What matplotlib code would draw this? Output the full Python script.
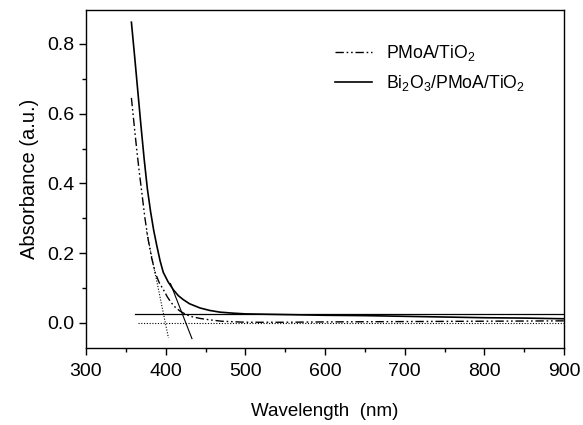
import numpy as np
import matplotlib
matplotlib.use('Agg')
import matplotlib.pyplot as plt
from matplotlib.ticker import MultipleLocator, FormatStrFormatter

plt.rcParams['font.family'] = ['Liberation Sans', 'DejaVu Sans']
plt.rcParams['mathtext.fontset'] = 'custom'
plt.rcParams['mathtext.rm'] = 'Liberation Sans'

# PMoA/TiO2 absorbance
wl_pmoa = [357, 361, 364, 367, 370, 374, 378, 382, 387, 392, 397, 402, 407,
           412, 418, 425, 431, 437, 443, 455, 470, 500, 550, 600, 700, 800, 900]
abs_pmoa = [0.645, 0.555, 0.49, 0.43, 0.375, 0.30, 0.24, 0.19, 0.143, 0.115,
            0.096, 0.075, 0.058, 0.045, 0.034, 0.025, 0.019, 0.016, 0.013,
            0.009, 0.005, 0.002, 0.002, 0.003, 0.004, 0.005, 0.006]

# Bi2O3/PMoA/TiO2 absorbance
wl_bi = [357, 361, 365, 369, 373, 377, 381, 385, 389, 393, 397, 403, 410, 416,
         422, 430, 443, 455, 468, 485, 500, 550, 600, 650, 700, 750, 800, 850, 900]
abs_bi = [0.862, 0.765, 0.665, 0.565, 0.47, 0.385, 0.32, 0.265, 0.22, 0.178,
          0.145, 0.118, 0.094, 0.078, 0.067, 0.055, 0.043, 0.036, 0.031, 0.028,
          0.026, 0.024, 0.022, 0.021, 0.019, 0.017, 0.015, 0.014, 0.012]

# band-edge construction lines
tan_pmoa_x = [376, 403.5]
tan_pmoa_y = [0.262, -0.043]
tan_bi_x = [406, 433]
tan_bi_y = [0.113, -0.045]
base_bi_x = [361.5, 900]
base_bi_y = [0.027, 0.027]
base_pmoa_x = [365.5, 900]
base_pmoa_y = [0.0, 0.0]

fig = plt.figure(figsize=(5.83, 4.25), dpi=100)
ax = fig.add_axes([0.1475, 0.181, 0.82, 0.7955])

dashdotdot = (0, (6, 2, 1.2, 2, 1.2, 2))
ax.plot(wl_pmoa, abs_pmoa, color='black', lw=1.0, linestyle=dashdotdot, label='PMoA/TiO$_2$')
ax.plot(wl_bi, abs_bi, color='black', lw=1.2, label='Bi$_2$O$_3$/PMoA/TiO$_2$')

ax.plot(tan_pmoa_x, tan_pmoa_y, color='black', lw=0.8, linestyle=(0, (1, 1.5)))
ax.plot(base_pmoa_x, base_pmoa_y, color='black', lw=0.8, linestyle=(0, (1, 1.5)))
ax.plot(tan_bi_x, tan_bi_y, color='black', lw=0.8)
ax.plot(base_bi_x, base_bi_y, color='black', lw=0.9)

ax.set_xlim(300, 900)
ax.set_ylim(-0.072, 0.897)
ax.xaxis.set_major_locator(MultipleLocator(100))
ax.xaxis.set_minor_locator(MultipleLocator(50))
ax.yaxis.set_major_locator(MultipleLocator(0.2))
ax.yaxis.set_minor_locator(MultipleLocator(0.1))
ax.tick_params(which='major', direction='out', length=5, width=1, labelsize=14)
ax.tick_params(which='minor', direction='out', length=3, width=1)
ax.tick_params(axis='x', which='major', pad=6)
ax.tick_params(top=False, right=False)
ax.yaxis.set_major_formatter(FormatStrFormatter('%.1f'))
for s in ax.spines.values():
    s.set_linewidth(1.0)

ax.set_xlabel('Wavelength  (nm)', fontsize=13.5, labelpad=16)
ax.set_ylabel('Absorbance (a.u.)', fontsize=14.5, labelpad=6)

ax.legend(loc='upper left', bbox_to_anchor=(0.487, 0.95), frameon=False,
          fontsize=12.7, handlelength=2.1, handletextpad=0.8, labelspacing=0.6)

fig.savefig('out.png', dpi=100)
